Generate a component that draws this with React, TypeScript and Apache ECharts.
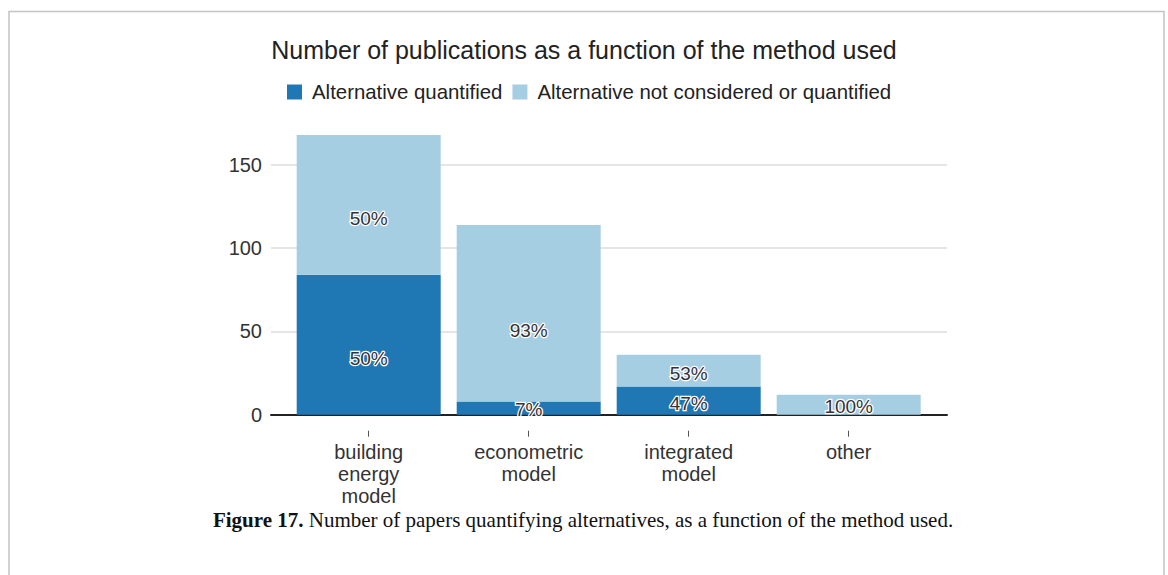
import React, { useEffect, useRef } from "react";
import * as echarts from "echarts";

const categories = ["building\nenergy\nmodel", "econometric\nmodel", "integrated\nmodel", "other"];
const quantified = [84, 8, 17, 0];
const notQuantified = [84, 106, 19, 12];
const yTicks = [0, 50, 100, 150];
const seriesNames = ["Alternative quantified", "Alternative not considered or quantified"];
const titleText = "Number of publications as a function of the method used";
const captionBold = "Figure 17.";
const captionText = " Number of papers quantifying alternatives, as a function of the method used.";

const SANS = "'Liberation Sans', Arial, Helvetica, sans-serif";
const SERIF = "'Liberation Serif', 'Times New Roman', serif";

function pct(v: number, i: number): string {
  const total = quantified[i] + notQuantified[i];
  return Math.round((v / total) * 100) + "%";
}

export default function App() {
  const ref = useRef<HTMLDivElement>(null);
  useEffect(() => {
    if (!ref.current) return;
    const chart = echarts.init(ref.current, undefined, { renderer: "svg" });
    const label = {
      show: true,
      position: ["50%", "60%"],
      align: "center",
      verticalAlign: "middle",
      fontSize: 19,
      fontFamily: SANS,
      color: "#333",
      textBorderColor: "#fff",
      textBorderWidth: 2.5,
      formatter: (p: any) => (p.value > 0 ? pct(p.value, p.dataIndex) : ""),
    };
    chart.setOption({
      animation: false,
      backgroundColor: "#fff",
      title: {
        text: titleText,
        left: "center",
        top: 32,
        textStyle: { fontSize: 25, fontWeight: "normal", color: "#222", fontFamily: SANS },
      },
      legend: {
        top: 77,
        left: 282,
        icon: "rect",
        itemWidth: 15,
        itemHeight: 15,
        itemGap: 10,
        data: seriesNames,
        textStyle: { fontSize: 20.4, color: "#222", fontFamily: SANS, padding: [0, 0, 0, 5] },
      },
      grid: [
        { left: 271, right: 221, top: 165, bottom: 160.3 },
        { left: 288.7, right: 239.3, top: 165, bottom: 160.3 },
        { left: 288.7, right: 239.3, top: 165, bottom: 144.3 },
      ],
      xAxis: [
        {
          gridIndex: 0,
          type: "value",
          min: 0,
          max: 1,
          axisLine: { show: true, onZero: false, lineStyle: { color: "#222", width: 2 } },
          axisTick: { show: false },
          axisLabel: { show: false },
          splitLine: { show: false },
        },
        {
          gridIndex: 1,
          type: "category",
          data: categories,
          axisLine: { show: false },
          axisTick: { show: false },
          axisLabel: { show: false },
        },
        {
          gridIndex: 2,
          type: "category",
          data: categories,
          axisLine: { show: false },
          axisTick: { show: true, alignWithLabel: true, length: 6, lineStyle: { color: "#555", width: 1 } },
          axisLabel: { margin: 10, fontSize: 20, lineHeight: 22, color: "#333", fontFamily: SANS },
        },
      ],
      yAxis: [
        {
          gridIndex: 0,
          type: "value",
          min: yTicks[0],
          max: yTicks[yTicks.length - 1],
          interval: yTicks[1] - yTicks[0],
          axisLine: { show: false },
          axisTick: { show: false },
          axisLabel: { margin: 9, fontSize: 20, color: "#333", fontFamily: SANS },
          splitLine: { show: true, lineStyle: { color: "#dcdcdc", width: 1.5 } },
        },
        {
          gridIndex: 1,
          type: "value",
          min: yTicks[0],
          max: yTicks[yTicks.length - 1],
          show: false,
          splitLine: { show: false },
        },
        {
          gridIndex: 2,
          type: "value",
          min: 0,
          max: 1,
          show: false,
          splitLine: { show: false },
        },
      ],
      series: [
        {
          name: seriesNames[0],
          type: "bar",
          stack: "total",
          xAxisIndex: 1,
          yAxisIndex: 1,
          barWidth: 144,
          clip: false,
          itemStyle: { color: "#1f78b4" },
          label,
          data: quantified,
        },
        {
          name: seriesNames[1],
          type: "bar",
          stack: "total",
          xAxisIndex: 1,
          yAxisIndex: 1,
          barWidth: 144,
          clip: false,
          itemStyle: { color: "#a6cee3" },
          label,
          data: notQuantified,
        },
      ],
      graphic: [
        {
          type: "rect",
          silent: true,
          shape: { x: 9, y: 11.5, width: 1155, height: 620 },
          style: { fill: "none", stroke: "#c4c4c4", lineWidth: 1.5 },
          z: -10,
        },
        {
          type: "text",
          x: 583,
          y: 520,
          style: {
            text: "{b|" + captionBold + "}" + captionText,
            align: "center",
            verticalAlign: "middle",
            fontSize: 21,
            fontFamily: SERIF,
            fill: "#111",
            rich: { b: { fontWeight: "bold", fontSize: 21, fontFamily: SERIF, fill: "#111" } },
          },
        },
      ],
    });
    return () => chart.dispose();
  }, []);
  return (
    <div
      ref={ref}
      style={{ position: "absolute", left: 0, top: 0, width: 1168, height: 575, background: "#fff" }}
    />
  );
}
